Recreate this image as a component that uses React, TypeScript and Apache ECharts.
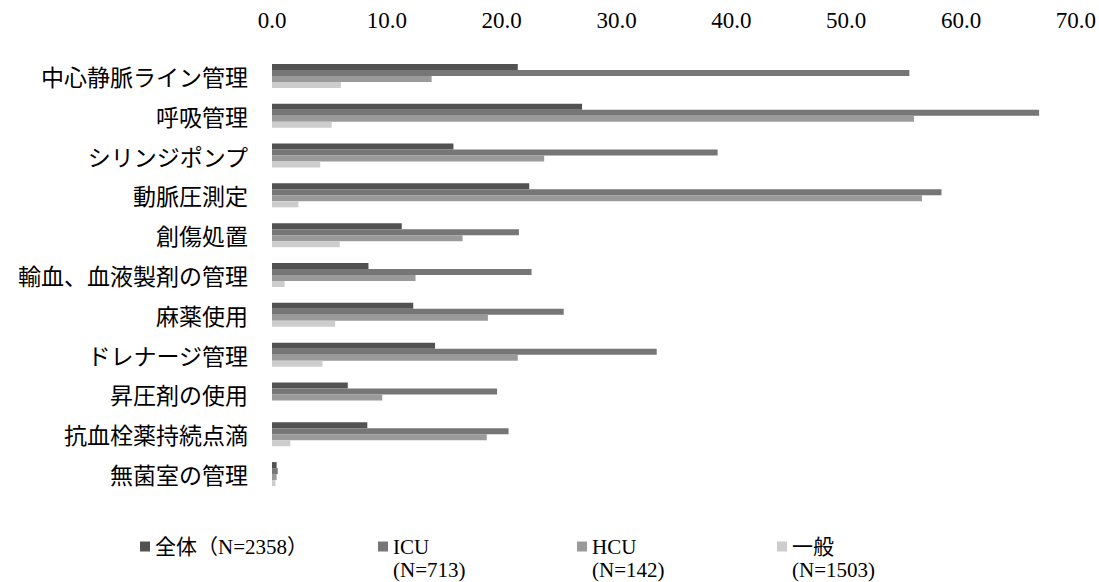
import React, { useEffect, useRef } from "react";
import * as echarts from "echarts";

const categories = [
  "中心静脈ライン管理",
  "呼吸管理",
  "シリンジポンプ",
  "動脈圧測定",
  "創傷処置",
  "輸血、血液製剤の管理",
  "麻薬使用",
  "ドレナージ管理",
  "昇圧剤の使用",
  "抗血栓薬持続点滴",
  "無菌室の管理",
];

const seriesNames = ["全体（N=2358）", "ICU\n(N=713)", "HCU\n(N=142)", "一般\n(N=1503)"];

const allValues = [21.4, 27.0, 15.8, 22.4, 11.3, 8.4, 12.3, 14.2, 6.6, 8.3, 0.4];
const icuValues = [55.5, 66.8, 38.8, 58.3, 21.5, 22.6, 25.4, 33.5, 19.6, 20.6, 0.5];
const hcuValues = [13.9, 55.9, 23.7, 56.6, 16.6, 12.5, 18.8, 21.4, 9.6, 18.7, 0.4];
const generalValues = [6.0, 5.2, 4.2, 2.3, 5.9, 1.1, 5.5, 4.4, 0.0, 1.6, 0.3];

const xTicks = [0, 10, 20, 30, 40, 50, 60, 70];

const colors = ["#525252", "#767676", "#9a9a9a", "#cdcdcd"];
const legendLefts = [140, 378, 577, 777];

const serif = "'Liberation Serif', 'Noto Sans CJK JP', serif";

export default function App() {
  const ref = useRef<HTMLDivElement>(null);
  useEffect(() => {
    if (!ref.current) return;
    const chart = echarts.init(ref.current, null, { renderer: "svg" });
    const data = [allValues, icuValues, hcuValues, generalValues];
    chart.setOption({
      animation: false,
      backgroundColor: "#ffffff",
      grid: { left: 272, right: 19, top: 56, bottom: 88, containLabel: false },
      xAxis: {
        type: "value",
        position: "top",
        min: xTicks[0],
        max: xTicks[xTicks.length - 1],
        interval: 10,
        axisLine: { show: false },
        axisTick: { show: false },
        splitLine: { show: false },
        axisLabel: {
          margin: 24,
          color: "#000",
          fontSize: 23,
          fontFamily: serif,
          formatter: (v: number) => v.toFixed(1),
        },
      },
      yAxis: {
        type: "category",
        data: categories,
        inverse: true,
        axisLine: { show: false },
        axisTick: { show: false },
        axisLabel: {
          margin: 24,
          color: "#000",
          fontSize: 23,
          fontFamily: "'Noto Sans CJK JP', sans-serif",
        },
      },
      legend: seriesNames.map((n, i) => ({
        data: [n],
        left: legendLefts[i],
        top: 512,
        padding: 0,
        icon: "rect",
        itemWidth: 10,
        itemHeight: 10,
        formatter: (name: string) => (name.indexOf("\n") >= 0 ? "\n" + name : "\n" + name + "\n"),
        textStyle: {
          color: "#000",
          fontSize: 21,
          lineHeight: 23,
          fontFamily: serif,
        },
      })),
      series: seriesNames.map((n, i) => ({
        name: n,
        type: "bar",
        data: data[i],
        barWidth: 6,
        barGap: "0%",
        itemStyle: { color: colors[i] },
      })),
    });
    return () => chart.dispose();
  }, []);
  return (
    <div
      ref={ref}
      style={{ position: "fixed", left: 0, top: 0, width: 1099, height: 582 }}
    />
  );
}
